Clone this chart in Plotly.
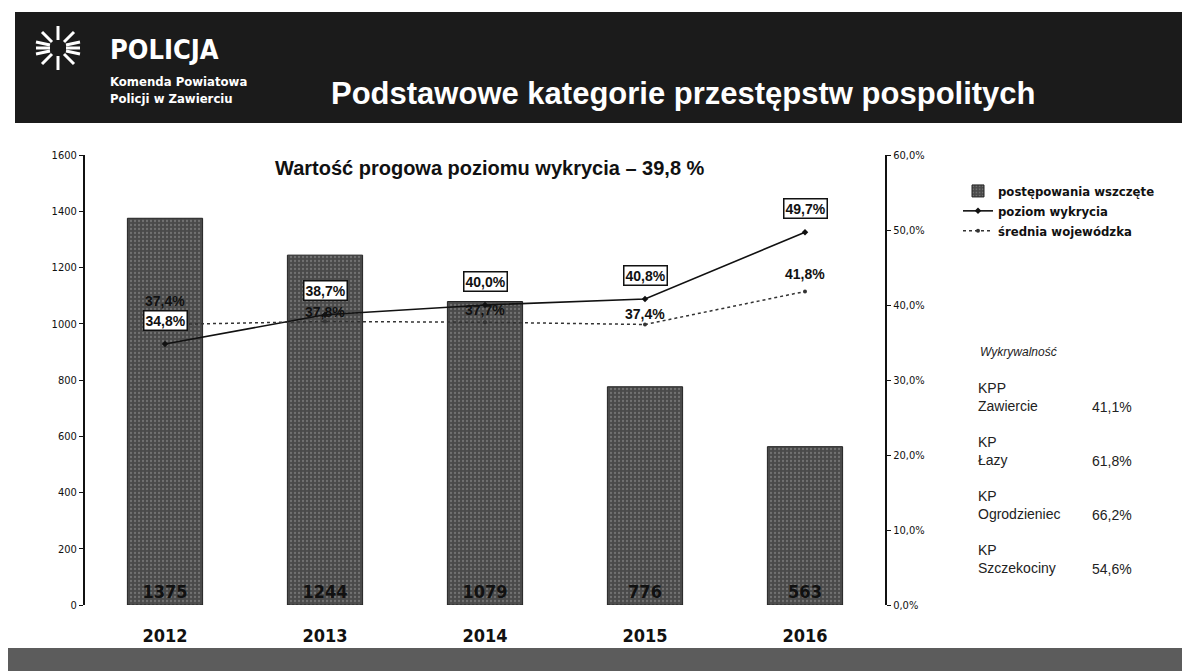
import plotly.graph_objects as go

# dane z wykresu
lata = ["2012", "2013", "2014", "2015", "2016"]
postepowania = [1375, 1244, 1079, 776, 563]
poziom_wykrycia = [34.8, 38.7, 40.0, 40.8, 49.7]
srednia_woj = [37.4, 37.8, 37.7, 37.4, 41.8]

y2_ticks = [0, 10, 20, 30, 40, 50, 60]
y2_labels = ["0,0%", "10,0%", "20,0%", "30,0%", "40,0%", "50,0%", "60,0%"]

jednostki = ["KPP<br>Zawiercie", "KP<br>Łazy", "KP<br>Ogrodzieniec", "KP<br>Szczekociny"]
wykrywalnosc = ["41,1%", "61,8%", "66,2%", "54,6%"]

W, H = 1190, 671
OFF = 8  # strona przesuwa wykres o margines body
L, R, T, B = 85 - OFF, 305 + OFF, 155 - OFF, 66 + OFF


def px(x):
    return (x - OFF - L) / (W - L - R)


def py(y):
    return (H - B - (y - OFF)) / (H - T - B)


def pct(v):
    return f"{v:.1f}%".replace(".", ",")


FONT = "Liberation Sans"
COND = "DejaVu Sans Condensed, Liberation Sans, sans-serif"
idx = list(range(len(lata)))

fig = go.Figure()
fig.add_trace(go.Bar(
    x=idx, y=postepowania, name="postępowania wszczęte",
    marker=dict(color="#4a4a4a", line=dict(color="#222", width=1),
                pattern=dict(shape=".", fgcolor="#999999", size=4, solidity=0.25)),
    text=[str(v) for v in postepowania], textposition="inside", insidetextanchor="start",
    textangle=0, textfont=dict(family=COND, size=18, color="#111"),
    texttemplate="<b>%{text}</b>", width=0.47,
))
fig.add_trace(go.Scatter(
    x=idx, y=poziom_wykrycia, name="poziom wykrycia", yaxis="y2", mode="lines+markers",
    line=dict(color="#111", width=1.6), marker=dict(symbol="diamond", size=5, color="#111"),
))
fig.add_trace(go.Scatter(
    x=idx, y=srednia_woj, name="średnia wojewódzka", yaxis="y2", mode="lines+markers",
    line=dict(color="#333", width=1.5, dash="dot"), marker=dict(size=4, color="#333"),
))

ann = []
for i, v in zip(idx, poziom_wykrycia):
    ann.append(dict(x=i, y=v, xref="x", yref="y2", text=f"<b>{pct(v)}</b>", showarrow=False,
                    yshift=24, bgcolor="white", bordercolor="#111", borderwidth=1.5, borderpad=1,
                    font=dict(family=FONT, size=14, color="#111")))
sr_shift = [24, 10, 12, 11, 18]
for i, v in zip(idx, srednia_woj):
    ann.append(dict(x=i, y=v, xref="x", yref="y2", text=f"<b>{pct(v)}</b>", showarrow=False,
                    yshift=sr_shift[i], font=dict(family=FONT, size=14, color="#111")))


def tekst(x, y, t, size, color="#111", family=FONT, anchor="center", align="center"):
    ann.append(dict(x=px(x), y=py(y), xref="paper", yref="paper", showarrow=False,
                    xanchor=anchor, yanchor="middle", align=align, text=t,
                    font=dict(family=family, size=size, color=color)))


tekst(490, 168, "<b>Wartość progowa poziomu wykrycia – 39,8 %</b>", 20)

# naglowek
tekst(108, 50, "<b>POLICJA</b>", 27, "white", COND, "left")
tekst(108, 90, "<b>Komenda Powiatowa<br>Policji w Zawierciu</b>", 13, "white", COND, "left", "left")
tekst(683, 94, "<b>Podstawowe kategorie przestępstw pospolitych</b>", 31, "white")

# wykrywalnosc w jednostkach
tekst(978, 352, "<i>Wykrywalność</i>", 12, "#222", FONT, "left")
for i, (j, w) in enumerate(zip(jednostki, wykrywalnosc)):
    yc = 397 + i * 54
    tekst(976, yc, j, 14, "#222", FONT, "left", "left")
    tekst(1090, yc + 10, w, 14, "#222", FONT, "left")

shapes = [
    dict(type="rect", xref="paper", yref="paper", x0=px(15), x1=px(W + 20), y0=py(123), y1=py(12),
         fillcolor="#1b1b1b", line=dict(width=0), layer="below"),
    dict(type="rect", xref="paper", yref="paper", x0=px(0), x1=px(W + 20), y0=py(H + 20), y1=py(648),
         fillcolor="#5c5c5c", line=dict(width=0), layer="below"),
]
# logo - prosta gwiazda z kresek
cx, cy = 58, 48
for dx0, dy0, dx1, dy1 in [(-22, 0, -8, 0), (8, 0, 22, 0), (0, -22, 0, -8), (0, 8, 0, 22),
                           (-16, -16, -6, -6), (6, 6, 16, 16), (16, -16, 6, -6), (-6, 6, -16, 16),
                           (-22, -6, -8, -3), (8, 3, 22, 6), (-22, 6, -8, 3), (8, -3, 22, -6)]:
    shapes.append(dict(type="line", xref="paper", yref="paper",
                       x0=px(cx + dx0), y0=py(cy + dy0), x1=px(cx + dx1), y1=py(cy + dy1),
                       line=dict(color="white", width=3)))

fig.update_layout(
    width=W, height=H, margin=dict(l=L, r=R, t=T, b=B),
    paper_bgcolor="white", plot_bgcolor="white",
    font=dict(family=FONT, color="#111"),
    showlegend=True,
    legend=dict(x=px(958), y=py(176), xanchor="left", yanchor="top", bgcolor="rgba(0,0,0,0)",
                font=dict(family=COND, size=13, color="#111", weight="bold"),
                itemwidth=30, tracegroupgap=6),
    xaxis=dict(range=[-0.5, 4.5], showline=False, ticks="", showgrid=False, zeroline=False,
               tickfont=dict(family=COND, size=18, color="#111"), ticklabelstandoff=18,
               tickvals=idx, ticktext=[f"<b>{r}</b>" for r in lata]),
    yaxis=dict(range=[0, 1600], dtick=200, showgrid=False, zeroline=False, showline=True,
               linecolor="#111", linewidth=2, ticks="outside", ticklen=4, tickcolor="#111",
               tickfont=dict(family=COND, size=11, color="#111")),
    yaxis2=dict(range=[0, 60], overlaying="y", side="right", showgrid=False, zeroline=False,
                showline=True, linecolor="#111", linewidth=2, ticks="outside", ticklen=4,
                tickcolor="#111", tickvals=y2_ticks, ticktext=y2_labels,
                tickfont=dict(family=COND, size=11, color="#111")),
    annotations=ann, shapes=shapes,
)

fig.write_html("out.html")
